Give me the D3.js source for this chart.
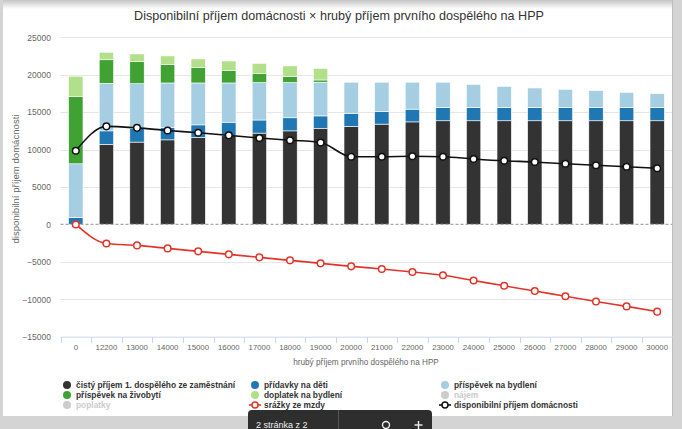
<!DOCTYPE html>
<html><head><meta charset="utf-8">
<script src="https://cdn.jsdelivr.net/npm/d3@7"></script>
<style>
html,body{margin:0;padding:0;background:#d6d6d6;}
svg{display:block;font-family:"Liberation Sans",Arial,sans-serif;}
</style></head>
<body><svg id="c" width="682" height="429"></svg>
<script>
const categories = ["0","12200","13000","14000","15000","16000","17000","18000","19000","20000","21000","22000","23000","24000","25000","26000","27000","28000","29000","30000"];
const cistyPrijem = [0,10700,11000,11300,11600,11850,12200,12500,12800,13100,13400,13700,13850,13850,13850,13850,13850,13850,13850,13850];
const pridavky = [900,1800,1800,1650,1700,1800,1750,1750,1700,1750,1700,1700,1750,1750,1750,1750,1750,1750,1750,1750];
const prispevekBydleni = [7200,6350,6000,5950,5600,5250,5000,4700,4500,4150,3900,3600,3400,3120,2850,2630,2450,2270,2050,1870];
const prispevekZivobyti = [9000,3150,2950,2450,2090,1690,1200,800,300,0,0,0,0,0,0,0,0,0,0,0];
const doplatekBydleni = [2700,1000,1030,1160,1120,1250,1370,1430,1560,0,0,0,0,0,0,0,0,0,0,0];
const srazky = [0,-2550,-2800,-3200,-3600,-4000,-4400,-4800,-5200,-5600,-5950,-6350,-6800,-7500,-8200,-8900,-9600,-10300,-10950,-11650];
const disponibilni = [9850,13100,12900,12550,12250,11900,11550,11250,10950,9050,9050,9100,9050,8750,8500,8350,8100,7900,7700,7500];
const yTicks = [-15000,-10000,-5000,0,5000,10000,15000,20000,25000];
const title = "Disponibilní příjem domácnosti × hrubý příjem prvního dospělého na HPP";
const xTitle = "hrubý příjem prvního dospělého na HPP";
const yTitle = "disponibilní příjem domácnosti";

const stackNames = ["cisty","pridavky","bydleni","zivobyti","doplatek"];
const stackSeries = [cistyPrijem,pridavky,prispevekBydleni,prispevekZivobyti,doplatekBydleni];
const stackColors = ["#333333","#1f78b4","#a6cee3","#3fa232","#b2df8a"];
const redColor = "#e3342a";

const legendItems = [
  {label:"čistý příjem 1. dospělého ze zaměstnání", type:"dot", color:"#333333"},
  {label:"přídavky na děti", type:"dot", color:"#1f78b4"},
  {label:"příspěvek na bydlení", type:"dot", color:"#a6cee3"},
  {label:"příspěvek na živobytí", type:"dot", color:"#3fa232"},
  {label:"doplatek na bydlení", type:"dot", color:"#b2df8a"},
  {label:"nájem", type:"dot", color:"#cccccc", hidden:true},
  {label:"poplatky", type:"dot", color:"#cccccc", hidden:true},
  {label:"srážky ze mzdy", type:"line", color:redColor},
  {label:"disponibilní příjem domácnosti", type:"line", color:"#111111"}
];

const svg = d3.select("#c");
const defs = svg.append("defs");
const g1 = defs.append("linearGradient").attr("id","topg").attr("x1",0).attr("y1",0).attr("x2",0).attr("y2",1);
g1.append("stop").attr("offset","0%").attr("stop-color","#c4c4c4");
g1.append("stop").attr("offset","100%").attr("stop-color","#ffffff");
svg.append("rect").attr("x",0).attr("y",0).attr("width",682).attr("height",429).attr("fill","#d4d4d4");
svg.append("rect").attr("x",3).attr("y",0).attr("width",669).attr("height",416).attr("fill","#ffffff");
svg.append("rect").attr("x",3).attr("y",0).attr("width",669).attr("height",9).attr("fill","url(#topg)");
svg.append("line").attr("x1",672.5).attr("x2",672.5).attr("y1",0).attr("y2",416).attr("stroke","#bdbdbd");

const x = d3.scaleBand().domain(categories).range([60.5,672.5]).paddingInner(0.53).paddingOuter(0.265);
const xb = d3.scaleBand().domain(categories).range([60.5,672.5]);
const y = d3.scaleLinear().domain([-15000,25000]).range([336.7,37.3]);

svg.append("g").selectAll("line").data(yTicks.filter(t=>t!==0 && t!==-15000)).join("line")
  .attr("x1",60.5).attr("x2",672).attr("y1",d=>Math.round(y(d))+0.5).attr("y2",d=>Math.round(y(d))+0.5)
  .attr("stroke","#e6e6e6").attr("stroke-width",1);

const yAxis = d3.axisLeft(y).tickValues(yTicks).tickSize(0).tickPadding(0).tickFormat(d3.format("d"));
const ya = svg.append("g").attr("transform","translate(51,0)").call(yAxis);
ya.select(".domain").remove();
ya.selectAll("text").attr("font-size","8.5px").attr("fill","#666").attr("font-family","Liberation Sans, Arial, sans-serif");

const xAxis = d3.axisBottom(xb).tickSize(0).tickPadding(8);
const xa = svg.append("g").attr("transform","translate(0,336.7)").call(xAxis);
xa.select(".domain").attr("stroke","#ccd6eb");
xa.selectAll("text").attr("font-size","7.8px").attr("fill","#666").attr("font-family","Liberation Sans, Arial, sans-serif");
svg.append("g").selectAll("line").data(d3.range(categories.length+1)).join("line")
  .attr("x1",i=>Math.round(60.5+i*xb.step())+0.5).attr("x2",i=>Math.round(60.5+i*xb.step())+0.5)
  .attr("y1",337).attr("y2",343).attr("stroke","#ccd6eb");

const rows = categories.map((c,i)=>{const o={cat:c}; stackNames.forEach((n,k)=>o[n]=stackSeries[k][i]); return o;});
const stacked = d3.stack().keys(stackNames)(rows);
svg.append("g").selectAll("g").data(stacked).join("g").attr("fill",(d,i)=>stackColors[i])
  .selectAll("rect").data(d=>d.filter(p=>p[1]-p[0]>0)).join("rect")
  .attr("x",d=>x(d.data.cat)).attr("width",x.bandwidth())
  .attr("y",d=>y(d[1])).attr("height",d=>y(d[0])-y(d[1]))
  .attr("stroke","#ffffff").attr("stroke-width",0.6);

svg.append("line").attr("x1",60.5).attr("x2",672).attr("y1",y(0)).attr("y2",y(0))
  .attr("stroke","#a8a8a8").attr("stroke-width",1.2).attr("stroke-dasharray","3,2");

const cx = c=>xb(c)+xb.bandwidth()/2;
const lineGen = d3.line().x(d=>cx(d.c)).y(d=>y(d.v)).curve(d3.curveMonotoneX);
function drawLine(vals,color){
  const pts = categories.map((c,i)=>({c,v:vals[i]}));
  svg.append("path").datum(pts).attr("d",lineGen).attr("fill","none").attr("stroke",color).attr("stroke-width",1.6);
  svg.append("g").selectAll("circle").data(pts).join("circle")
    .attr("cx",d=>cx(d.c)).attr("cy",d=>y(d.v)).attr("r",3.3)
    .attr("fill","#fff").attr("stroke",color).attr("stroke-width",1.5);
}
drawLine(srazky,redColor);
drawLine(disponibilni,"#111111");

svg.append("text").attr("x",339).attr("y",20).attr("text-anchor","middle")
  .attr("font-size","12.6px").attr("fill","#333").text(title);
svg.append("text").attr("x",366).attr("y",364.5).attr("text-anchor","middle")
  .attr("font-size","8.2px").attr("fill","#666").text(xTitle);
svg.append("text").attr("transform","translate(19,179) rotate(-90)").attr("text-anchor","middle")
  .attr("font-size","9.6px").attr("fill","#666").text(yTitle);

const colX = [67,255,445], rowY = [385,395,405];
const lg = svg.append("g");
legendItems.forEach((it,i)=>{
  const cxp = colX[i%3], cyp = rowY[Math.floor(i/3)];
  const g = lg.append("g");
  if(it.type==="dot"){
    g.append("circle").attr("cx",cxp).attr("cy",cyp).attr("r",4).attr("fill",it.color);
  } else {
    g.append("line").attr("x1",cxp-6).attr("x2",cxp+6).attr("y1",cyp).attr("y2",cyp).attr("stroke",it.color).attr("stroke-width",1.6);
    g.append("circle").attr("cx",cxp).attr("cy",cyp).attr("r",3).attr("fill","#fff").attr("stroke",it.color).attr("stroke-width",1.5);
  }
  g.append("text").attr("x",cxp+9).attr("y",cyp+3).attr("font-size","8.4px").attr("font-weight","bold")
    .attr("fill",it.hidden?"#cccccc":"#333333").text(it.label);
});

const tb = svg.append("g");
tb.append("rect").attr("x",248).attr("y",410).attr("width",184).attr("height",30).attr("rx",4).attr("fill","#2e2e2e");
tb.append("line").attr("x1",338.5).attr("x2",338.5).attr("y1",410).attr("y2",429).attr("stroke","#555");
tb.append("text").attr("x",256).attr("y",427.5).attr("font-size","9px").attr("fill","#eee").text("2 stránka z 2");
tb.append("circle").attr("cx",386).attr("cy",425).attr("r",3.5).attr("fill","none").attr("stroke","#eee").attr("stroke-width",1.4);
tb.append("line").attr("x1",418.5).attr("x2",418.5).attr("y1",421).attr("y2",429).attr("stroke","#eee").attr("stroke-width",1.4);
tb.append("line").attr("x1",414.5).attr("x2",422.5).attr("y1",425).attr("y2",425).attr("stroke","#eee").attr("stroke-width",1.4);
</script></body></html>
